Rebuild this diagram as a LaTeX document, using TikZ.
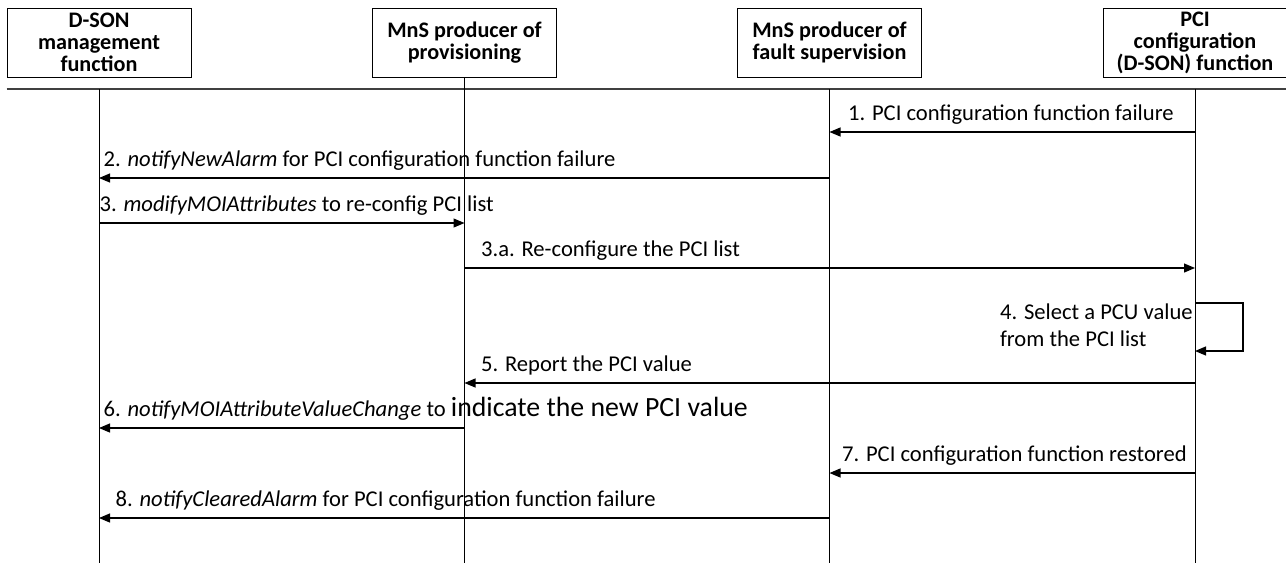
\documentclass[tikz,border=0pt]{standalone}
\usepackage{fontspec}
\setmainfont{Carlito}
\usetikzlibrary{arrows.meta, positioning}
\definecolor{linecolor}{RGB}{0,0,0}
\definecolor{rulecolor}{RGB}{64,64,64}

\begin{document}
\begin{tikzpicture}[x=0.5pt, y=-0.5pt,
    every node/.style={font=\fontsize{11.3}{11.7}\selectfont},
    entity/.style={draw=linecolor, line width=0.5pt, minimum width=92pt, minimum height=34.5pt,
        align=center, inner sep=0pt, font=\fontsize{11.1}{11}\selectfont\bfseries},
    life/.style={linecolor, line width=0.5pt},
    msg/.style={linecolor, -{Triangle[length=5.5pt, width=4.5pt]}, line width=0.6pt},
    lbl/.style={anchor=base west, inner sep=0pt, yshift=6pt}]

\useasboundingbox (0,0) rectangle (1286,563);

% Entities
\node[entity] (dson) at (99,42.5) {D-SON\\management\\function};
\node[entity] (prov) at (464.5,42.5) {MnS producer of\\provisioning};
\node[entity] (fault) at (829.5,42.5) {MnS producer of\\fault supervision};
\node[entity] (pci) at (1195,42.5) {PCI\\configuration\\(D-SON) function};

% Rows
\coordinate (top) at (0,89);
\coordinate (bot) at (0,563);
\foreach \n/\y in {1/132, 2/178, 3/223, 3a/268, 4a/303, 4b/351, 5/383, 6/428, 7/473, 8/518}
    \coordinate (m\n) at (0,\y);

% Header rule and lifelines
\draw[rulecolor, line width=0.8pt] (dson.west |- top) -- (pci.east |- top);
\draw[life] (dson |- top) -- (dson |- bot);
\draw[life] (prov.south) -- (prov |- bot);
\draw[life] (fault |- top) -- (fault |- bot);
\draw[life] (pci |- top) -- (pci |- bot);

% Messages
\draw[msg] (pci |- m1) -- (fault |- m1) node[lbl, pos=1, xshift=9pt] {1. PCI configuration function failure};
\draw[msg] (fault |- m2) -- (dson |- m2) node[lbl, pos=1, xshift=2pt] {2. \textit{notifyNewAlarm} for PCI configuration function failure};
\draw[msg] (dson |- m3) -- (prov |- m3) node[lbl, pos=0, xshift=0pt] {3. \textit{modifyMOIAttributes} to re-config PCI list};
\draw[msg] (prov |- m3a) -- (pci |- m3a) node[lbl, pos=0, xshift=8pt] {3.a. Re-configure the PCI list};

% Self action
\draw[msg] (pci |- m4a) -- ++(48,0) |- (pci |- m4b);
\node[anchor=north east, inner sep=0pt, align=left, xshift=-1pt,
    font=\fontsize{11.3}{13.5}\selectfont] (select) at (pci |- m4a) {4. Select a PCU value\\from the PCI list};

\draw[msg] (pci |- m5) -- (prov |- m5) node[lbl, pos=1, xshift=8pt] {5. Report the PCI value};
\draw[msg] (prov |- m6) -- (dson |- m6) node[lbl, pos=1, xshift=2pt] {6. \textit{notifyMOIAttributeValueChange} to {\fontsize{13.9}{15}\selectfont indicate the new PCI value}};
\draw[msg] (pci |- m7) -- (fault |- m7) node[lbl, pos=1, xshift=6pt] {7. PCI configuration function restored};
\draw[msg] (fault |- m8) -- (dson |- m8) node[lbl, pos=1, xshift=8pt] {8. \textit{notifyClearedAlarm} for PCI configuration function failure};

\end{tikzpicture}
\end{document}
